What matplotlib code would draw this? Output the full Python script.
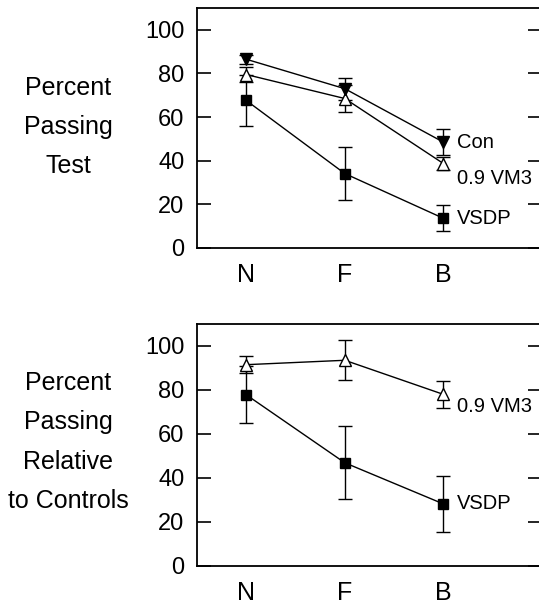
#-----Percent passing test, two panels
import matplotlib
matplotlib.use('Agg')
import matplotlib.pyplot as plt

#-----Data
stages = ['N', 'F', 'B']
xpos = [1, 2, 3]

# top panel: percent passing test
con_top = [86.5, 73.0, 48.5]
con_top_err = [2.0, 5.0, 6.0]
vm3_top = [79.5, 68.5, 38.7]
vm3_top_err = [3.5, 6.0, 3.0]
vsdp_top = [67.6, 34.1, 13.6]
vsdp_top_err = [11.5, 12.3, 6.0]

# bottom panel: percent passing relative to controls
vm3_rel = [91.5, 93.5, 78.0]
vm3_rel_err = [4.0, 9.0, 6.0]
vsdp_rel = [77.8, 46.9, 28.2]
vsdp_rel_err = [13.0, 16.5, 12.7]

yticks = [0, 20, 40, 60, 80, 100]

plt.rcParams['font.family'] = ['Liberation Sans', 'DejaVu Sans']
fs = 17

fig = plt.figure(figsize=(5.39, 6.05), dpi=100)
ax1 = fig.add_axes([0.3655, 0.5901, 0.64, 0.3967])
ax2 = fig.add_axes([0.3655, 0.0645, 0.64, 0.4000])

def style_axes(ax):
    ax.set_xlim(0.5, 4.0)
    ax.set_ylim(0, 110)
    ax.set_yticks(yticks)
    ax.set_xticks(xpos)
    ax.set_xticklabels(stages, fontsize=18)
    ax.tick_params(axis='x', length=0, pad=11)
    ax.tick_params(axis='y', direction='in', length=10, width=1.2,
                   right=True, labelsize=fs, pad=9)
    for s in ax.spines.values():
        s.set_linewidth(1.3)

def draw_series(ax, y, err, marker, filled):
    ax.errorbar(xpos, y, yerr=err, color='black', lw=1.0, elinewidth=1.0,
                capsize=5, capthick=1.0, marker=marker,
                markersize=8 if marker != 's' else 7.5,
                markerfacecolor='black' if filled else 'white',
                markeredgecolor='black', markeredgewidth=1.0, clip_on=False)

def end_label(ax, y, text, dy):
    ax.annotate(text, (xpos[-1], y[-1]), xytext=(14, -dy),
                textcoords='offset pixels', ha='left', va='center', fontsize=14.5)

# top panel
draw_series(ax1, vsdp_top, vsdp_top_err, 's', True)
draw_series(ax1, vm3_top, vm3_top_err, '^', False)
draw_series(ax1, con_top, con_top_err, 'v', True)
end_label(ax1, con_top, 'Con', 0)
end_label(ax1, vm3_top, '0.9 VM3', 15)
end_label(ax1, vsdp_top, 'VSDP', 0)
style_axes(ax1)

# bottom panel
draw_series(ax2, vsdp_rel, vsdp_rel_err, 's', True)
draw_series(ax2, vm3_rel, vm3_rel_err, '^', False)
end_label(ax2, vm3_rel, '0.9 VM3', 12)
end_label(ax2, vsdp_rel, 'VSDP', 0)
style_axes(ax2)

# left-hand titles
fig.text(68 / 539, 1 - 127 / 605, 'Percent\nPassing\nTest', ha='center', va='center',
         fontsize=18, linespacing=1.78)
fig.text(68 / 539, 1 - 442 / 605, 'Percent\nPassing\nRelative\nto Controls', ha='center',
         va='center', fontsize=18, linespacing=1.82)

fig.savefig('out.png', dpi=100)
